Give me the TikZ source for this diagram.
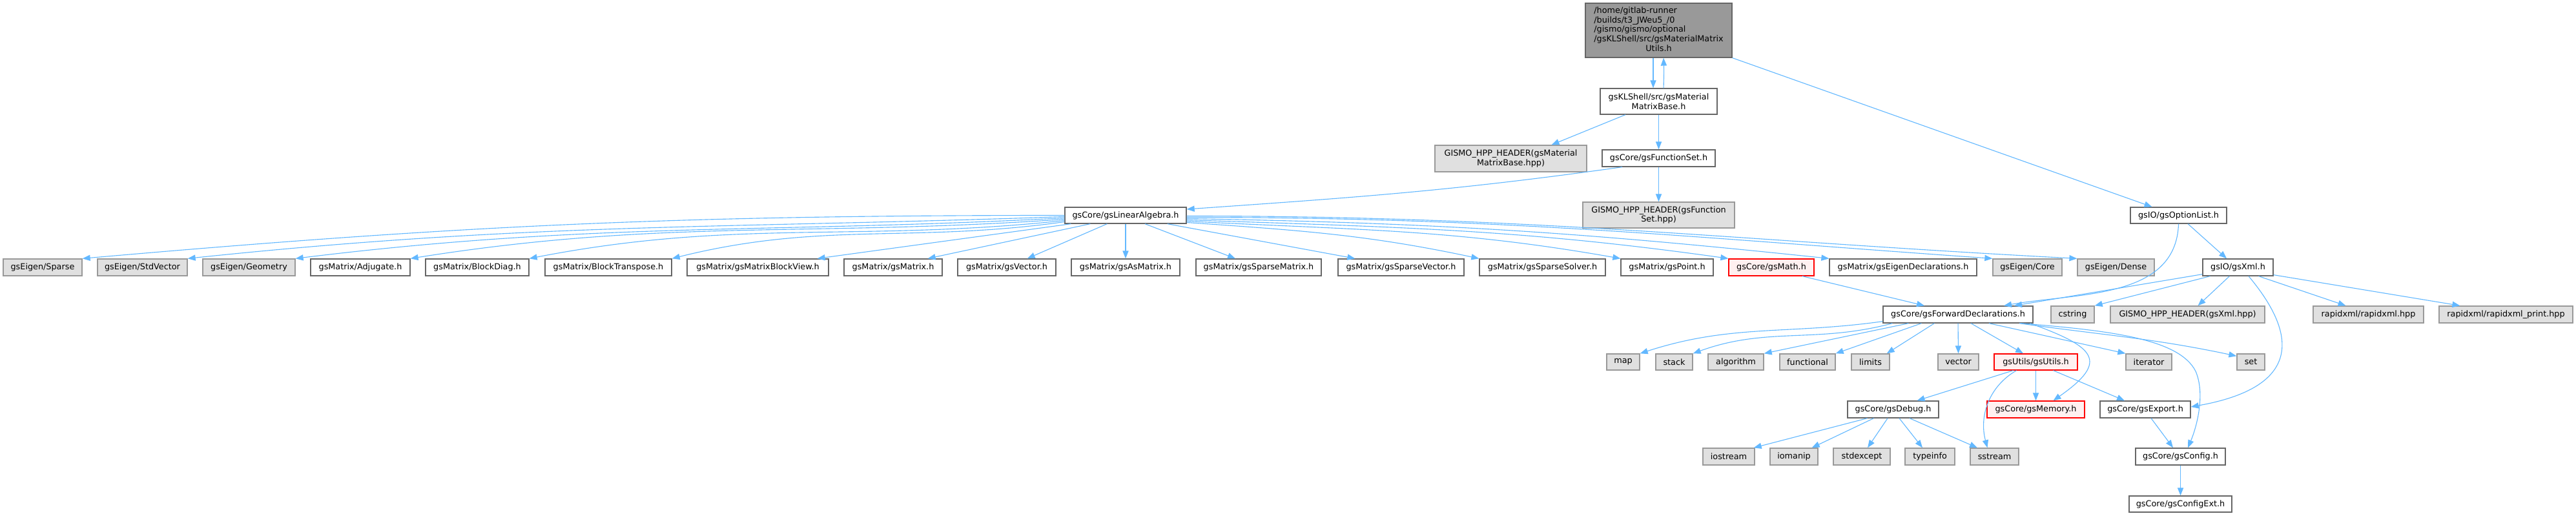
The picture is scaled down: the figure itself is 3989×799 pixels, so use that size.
\documentclass[tikz,border=0pt]{standalone}
\usepackage{fontspec}
\setmainfont{DejaVu Sans}
\usetikzlibrary{arrows.meta}
\definecolor{edgec}{HTML}{63B8FF}
\definecolor{bgray}{HTML}{999999}
\definecolor{fgray}{HTML}{E0E0E0}
\definecolor{bdark}{HTML}{666666}
\definecolor{fpink}{HTML}{FFF0F0}
\newcommand\nfont{\fontsize{3.2}{3.675}\selectfont}
\tikzset{
  mw/.style={minimum width=#1*0.25pt},
  mh/.style={minimum height=#1*0.25pt},
  xs/.style={xshift=#1*0.25pt},
  ys/.style={yshift=#1*0.25pt},
  base/.style={rectangle, draw, line width=0.33pt, inner sep=0pt, mh=26, font=\nfont, align=center},
  wn/.style={base, draw=bdark, fill=white},
  gn/.style={base, draw=bgray, fill=fgray},
  rn/.style={base, draw=red, fill=fpink},
  tn/.style={base, draw=bdark, fill=bgray},
  e/.style={draw=edgec, line width=0.28pt, -{Triangle[length=3pt,width=2.3pt]}, fill=none},
}
\begin{document}
\begin{tikzpicture}[x=0.25pt,y=0.25pt]
\useasboundingbox (0,0) rectangle (3989,-799);
% top levels
\node[tn, mw=227, mh=84] (top) at (2568.5,-47) {\begin{tabular}{@{}l@{}}/home/gitlab-runner\\/builds/t3\_JWeu5\_/0\\/gismo/gismo/optional\\/gsKLShell/src/gsMaterialMatrix\\\multicolumn{1}{@{}c@{}}{Utils.h}\end{tabular}};
\node[wn, mw=181, mh=40] (mb) at (2568.5,-157) {gsKLShell/src/gsMaterial\\MatrixBase.h};
\node[gn, mw=235, mh=41] (hm) at (2339.5,-245.5) {GISMO\_HPP\_HEADER(gsMaterial\\MatrixBase.hpp)};
\node[wn, mw=175] (fs) at (2568.5,-245) {gsCore/gsFunctionSet.h};
\node[gn, mw=235, mh=40] (hf) at (2568.5,-333) {GISMO\_HPP\_HEADER(gsFunction\\Set.hpp)};
\node[wn, mw=188, mh=25] (la) at (1743,-333.5) {gsCore/gsLinearAlgebra.h};
\node[wn, mw=149, mh=25] (opt) at (3373.5,-333.5) {gsIO/gsOptionList.h};
% row B
\node[gn, mw=122] (sparse) at (66,-414) {gsEigen/Sparse};
\node[gn, mw=139] (stdv) at (220.5,-414) {gsEigen/StdVector};
\node[gn, mw=143] (geo) at (385.5,-414) {gsEigen/Geometry};
\node[wn, mw=154] (adj) at (558,-414) {gsMatrix/Adjugate.h};
\node[wn, mw=160] (bd) at (739,-414) {gsMatrix/BlockDiag.h};
\node[wn, mw=196] (bt) at (942,-414) {gsMatrix/BlockTranspose.h};
\node[wn, mw=219] (bv) at (1173.5,-414) {gsMatrix/gsMatrixBlockView.h};
\node[wn, mw=152] (gm) at (1383,-414) {gsMatrix/gsMatrix.h};
\node[wn, mw=152] (gv) at (1559,-414) {gsMatrix/gsVector.h};
\node[wn, mw=168] (am) at (1743,-414) {gsMatrix/gsAsMatrix.h};
\node[wn, mw=194] (sm) at (1949,-414) {gsMatrix/gsSparseMatrix.h};
\node[wn, mw=195] (sv) at (2169.5,-414) {gsMatrix/gsSparseVector.h};
\node[wn, mw=195] (ss) at (2388.5,-414) {gsMatrix/gsSparseSolver.h};
\node[wn, mw=143] (gp) at (2581.5,-414) {gsMatrix/gsPoint.h};
\node[rn, mw=132] (gmath) at (2743,-414) {gsCore/gsMath.h};
\node[wn, mw=228] (ged) at (2947,-414) {gsMatrix/gsEigenDeclarations.h};
\node[gn, mw=107] (core) at (3139.5,-414) {gsEigen/Core};
\node[gn, mw=119] (dense) at (3276.5,-414) {gsEigen/Dense};
\node[wn, mw=109] (xml) at (3465.5,-414) {gsIO/gsXml.h};
% row C
\node[wn, mw=232] (fd) at (3032,-487) {gsCore/gsForwardDeclarations.h};
\node[gn, mw=67] (cs) at (3209.5,-487) {cstring};
\node[gn, mw=239] (hx) at (3387.5,-487) {GISMO\_HPP\_HEADER(gsXml.hpp)};
\node[gn, mw=171] (rx) at (3667.5,-487) {rapidxml/rapidxml.hpp};
\node[gn, mw=207] (rp) at (3880.5,-487) {rapidxml/rapidxml\_print.hpp};
% row D
\node[gn, mw=51, mh=25] (mapn) at (2513.5,-560.5) {map};
\node[gn, mw=57, mh=25] (stack) at (2592.5,-560.5) {stack};
\node[gn, mw=86, mh=25] (alg) at (2688,-560.5) {algorithm};
\node[gn, mw=86, mh=25] (func) at (2799,-560.5) {functional};
\node[gn, mw=59, mh=25] (lim) at (2896.5,-560.5) {limits};
\node[gn, mw=63, mh=25] (vec) at (3032.5,-560.5) {vector};
\node[rn, mw=129, mh=25] (ut) at (3152.5,-560.5) {gsUtils/gsUtils.h};
\node[gn, mw=71, mh=25] (it) at (3327.5,-560.5) {iterator};
\node[gn, mw=43, mh=25] (set) at (3485.5,-560.5) {set};
% row E
\node[wn, mw=141] (dbg) at (2931.5,-634) {gsCore/gsDebug.h};
\node[rn, mw=151] (mem) at (3152.5,-634) {gsCore/gsMemory.h};
\node[wn, mw=140] (ex) at (3322,-634) {gsCore/gsExport.h};
% row F
\node[gn, mw=80] (ios) at (2677,-707) {iostream};
\node[gn, mw=74] (iom) at (2778,-707) {iomanip};
\node[gn, mw=88] (se) at (2883,-707) {stdexcept};
\node[gn, mw=77] (ti) at (2988.5,-707) {typeinfo};
\node[gn, mw=75] (sst) at (3088.5,-707) {sstream};
\node[wn, mw=139] (cfg) at (3376.5,-707) {gsCore/gsConfig.h};
% row G
\node[wn, mw=159, mh=25] (ce) at (3376.5,-780.5) {gsCore/gsConfigExt.h};

% edges
\draw[e] ([xs=-8.5]top.south) -- ([xs=-8.5]mb.north);
\draw[e] ([xs=7.5]mb.north) to[out=88,in=-88] ([xs=7.5]top.south);
\draw[e] (top.south east) -- ([xs=-41]opt.north);
\draw[e] ([xs=-51.5]mb.south) -- ([xs=63]hm.north);
\draw[e] (mb.south) -- (fs.north);
\draw[e] ([xs=-56.5]fs.south) to[out=188,in=4] ([ys=9.5]la.east);
\draw[e] (fs.south) -- (hf.north);
% linear algebra
\draw[e] (la.west) to[out=180,in=5] (sparse.north east);
\draw[e] ([ys=-2]la.west) to[out=182,in=6] (stdv.north east);
\draw[e] ([ys=-4]la.west) to[out=183,in=7] (geo.north east);
\draw[e] ([ys=-6]la.west) to[out=184,in=9] (adj.north east);
\draw[e] ([ys=-8]la.west) to[out=186,in=11] (bd.north east);
\draw[e] ([ys=-10]la.west) to[out=188,in=14] (bt.north east);
\draw[e] ([xs=10]la.south west) -- ([xs=-18]bv.north east);
\draw[e] ([xs=40]la.south west) -- ([xs=-23]gm.north east);
\draw[e] ([xs=66]la.south west) -- ([xs=-45]gv.north east);
\draw[e] (la.south) -- (am.north);
\draw[e] ([xs=30]la.south) -- ([xs=-36]sm.north);
\draw[e] ([xs=-30]la.south east) -- ([xs=27]sv.north west);
\draw[e] ([ys=-11]la.east) to[out=-4,in=168] (ss.north west);
\draw[e] ([ys=-9]la.east) to[out=-3,in=170] (gp.north west);
\draw[e] ([ys=-7]la.east) to[out=-2,in=172] (gmath.north west);
\draw[e] ([ys=-5]la.east) to[out=-1,in=174] (ged.north west);
\draw[e] ([ys=-3]la.east) to[out=0,in=176] (core.north west);
\draw[e] ([ys=-1]la.east) to[out=0,in=177] (dense.north west);
% math, option list, xml
\draw[e] ([xs=48]gmath.south) -- ([xs=-52]fd.north);
\draw[e] ([xs=14.5]opt.south) -- ([xs=-17.5]xml.north);
\draw[e] (opt.south) to[out=-92,in=10] ([xs=71]fd.north);
\draw[e] ([ys=3]xml.south west) -- ([xs=87]fd.north);
\draw[e] ([xs=12]xml.south west) -- (cs.north east);
\draw[e] ([xs=42]xml.south west) -- ([xs=16]hx.north);
\draw[e] ([xs=16.5]xml.south) to[out=-50,in=10,looseness=1.7] ([ys=4]ex.east);
\draw[e] ([xs=32]xml.south) -- ([xs=-35]rx.north);
\draw[e] ([ys=2]xml.south east) -- ([xs=33]rp.north west);
% forward declarations
\draw[e] ([ys=3]fd.south west) to[out=188,in=18] (mapn.north east);
\draw[e] ([xs=15]fd.south west) to[out=195,in=20] (stack.north east);
\draw[e] ([xs=40]fd.south west) -- (alg.north east);
\draw[e] ([xs=60]fd.south west) -- (func.north east);
\draw[e] ([xs=80]fd.south west) -- ([xs=-5]lim.north east);
\draw[e] (fd.south) -- (vec.north);
\draw[e] ([xs=20]fd.south) -- ([xs=-19.5]ut.north);
\draw[e] ([xs=48]fd.south) -- (it.north west);
\draw[e] ([xs=95]fd.south) to[out=-8,in=168] ([ys=-4]set.north west);
\draw[e] ([xs=-5]fd.south east) to[out=-20,in=35,looseness=2.2] ([xs=27]mem.north);
\draw[e] ([xs=-20]fd.south east) .. controls (3270,-512) and (3375,-525) .. (3400,-575)
   .. controls (3415,-610) and (3402,-660) .. ([xs=11.5]cfg.north);
% utils
\draw[e] ([xs=-35]ut.south) -- ([xs=37]dbg.north);
\draw[e] ([xs=-30]ut.south) to[out=-150,in=105] ([xs=-11]sst.north);
\draw[e] (ut.south) -- (mem.north);
\draw[e] ([xs=27]ut.south) -- ([xs=-32]ex.north);
% debug
\draw[e] ([xs=-40]dbg.south) -- ([xs=-2]ios.north east);
\draw[e] ([xs=-30]dbg.south) -- ([xs=-10]iom.north east);
\draw[e] ([xs=-8.5]dbg.south) -- ([xs=9]se.north);
\draw[e] ([xs=9.5]dbg.south) -- ([xs=-11.5]ti.north);
\draw[e] ([xs=25.5]dbg.south) -- ([xs=-26.5]sst.north);
% config
\draw[e] ([xs=9]ex.south) -- ([xs=-11.5]cfg.north);
\draw[e] (cfg.south) -- (ce.north);
\end{tikzpicture}
\end{document}
